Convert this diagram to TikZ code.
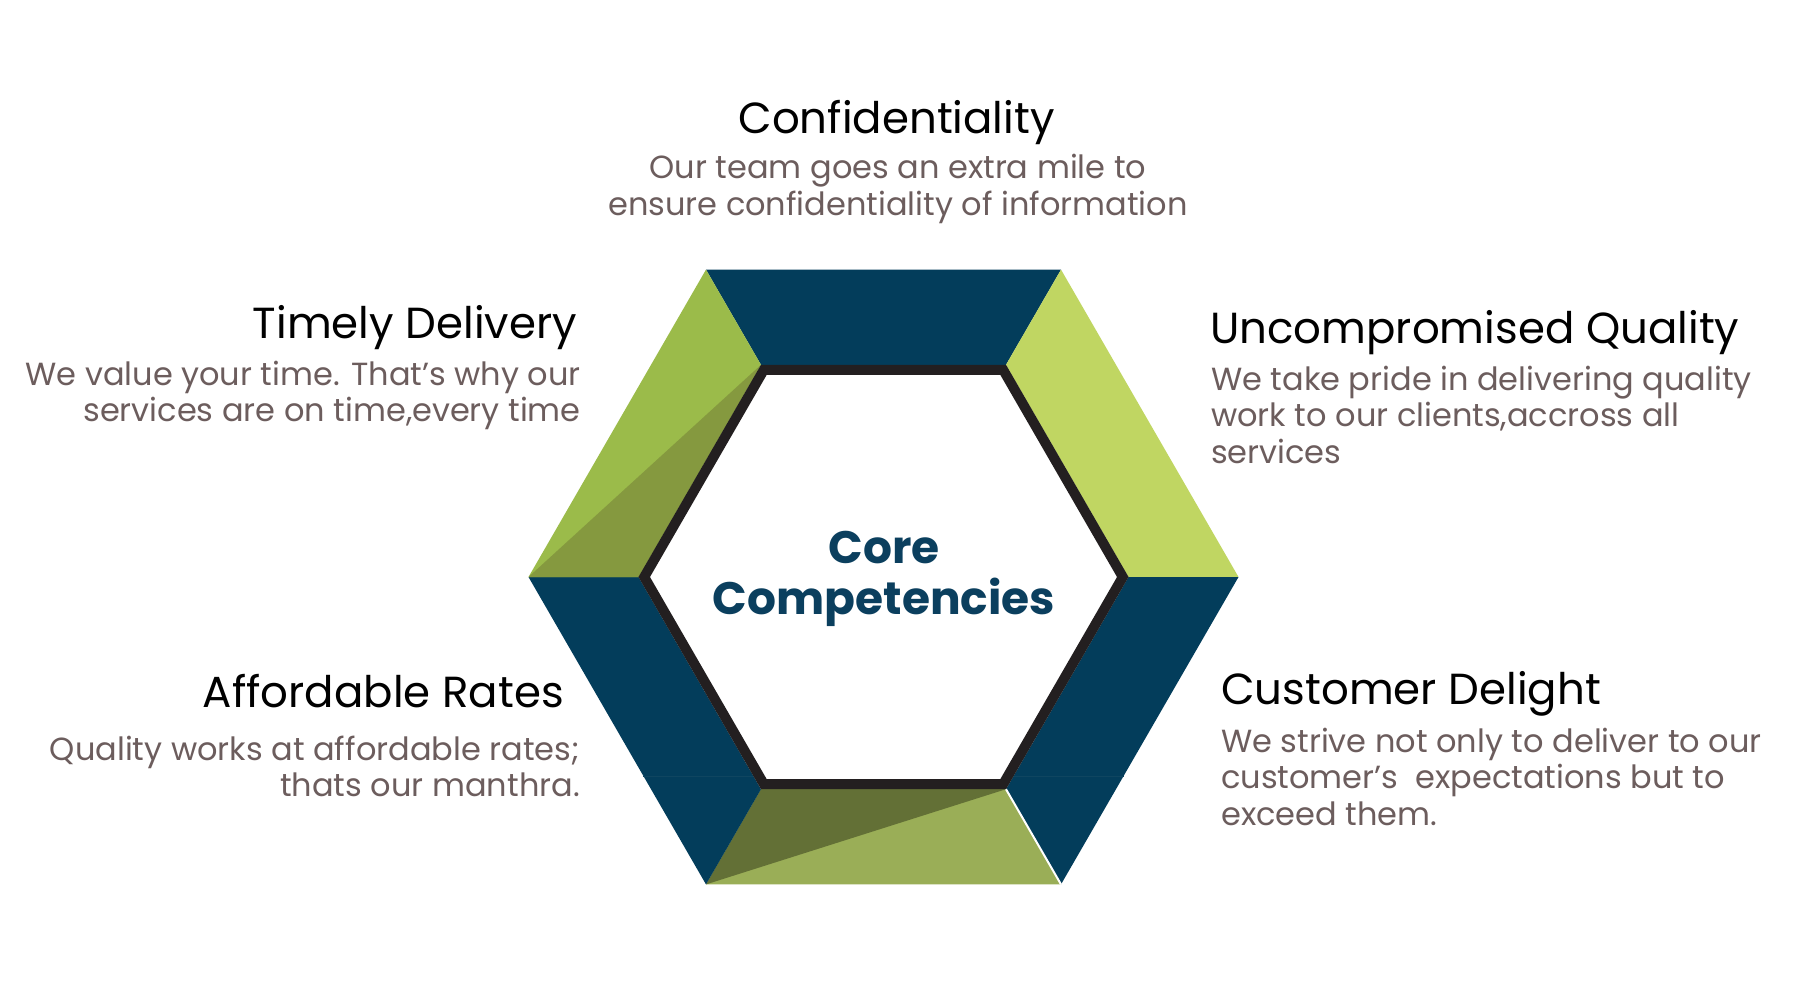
\documentclass[tikz,border=0pt]{standalone}
\usepackage{fontspec}
\setmainfont{Poppins}
\definecolor{navy}{HTML}{033D5B}
\definecolor{ltgreen}{HTML}{C0D662}
\definecolor{ulgreen}{HTML}{9BBB4A}
\definecolor{uldark}{HTML}{85993F}
\definecolor{btlight}{HTML}{9AAE57}
\definecolor{btdark}{HTML}{637036}
\definecolor{band}{HTML}{231F20}
\definecolor{descgray}{HTML}{6C5D5D}
\definecolor{coreblue}{HTML}{0B3F5E}
\definecolor{seam}{HTML}{0F4560}
\begin{document}
\begin{tikzpicture}[x=1pt,y=-1pt,
  title/.style={font=\fontsize{43.5}{50}\selectfont, text=black, inner sep=0pt},
  desc/.style={font=\fontsize{32}{36.7}\selectfont, text=descgray, inner sep=0pt},
  core/.style={font=\fontsize{45.5}{51}\selectfont\bfseries, text=coreblue, inner sep=0pt, align=center}]
\useasboundingbox[fill=white] (0,0) rectangle (1800,1000);
% outer hexagon
\coordinate (O0) at (1238.5,577);
\coordinate (O1) at (1061,269.6);
\coordinate (O2) at (706,269.6);
\coordinate (O3) at (528.5,577);
\coordinate (O4) at (706,884.4);
\coordinate (O5) at (1061,884.4);
% inner hexagon
\coordinate (I0) at (1128.5,577);
\coordinate (I1) at (1006,364.8);
\coordinate (I2) at (761,364.8);
\coordinate (I3) at (638.5,577);
\coordinate (I4) at (761,789.2);
\coordinate (I5) at (1006,789.2);
% band
\coordinate (B0) at (1122.8,577);
\coordinate (B1) at (1003.15,369.8);
\coordinate (B2) at (763.85,369.8);
\coordinate (B3) at (644.2,577);
\coordinate (B4) at (763.85,784.2);
\coordinate (B5) at (1003.15,784.2);
% seams
\coordinate (SR1) at (1013.6,776);
\coordinate (SR2) at (1123.6,776);
\coordinate (SL1) at (753.4,776);
\coordinate (SL2) at (643.4,776);
% faces
\fill[navy] (O2) -- (O1) -- (I1) -- (I2) -- cycle;
\fill[ltgreen] (O1) -- (O0) -- (I0) -- (I1) -- cycle;
\fill[navy] (O0) -- (O5) -- (I5) -- (I0) -- cycle;
\fill[btlight] (O5) -- (O4) -- (I4) -- (I5) -- cycle;
\fill[btdark] (O4) -- (I5) -- (I4) -- cycle;
\fill[navy] (O4) -- (O3) -- (I3) -- (I4) -- cycle;
\fill[ulgreen] (O3) -- (O2) -- (I2) -- (I3) -- cycle;
\fill[uldark] (O3) -- (I2) -- (I3) -- cycle;
\draw[seam, line width=1pt] (SR1) -- (SR2);
\draw[seam, line width=1pt] (SL1) -- (SL2);
\draw[white, line width=2pt] (I5) -- (O5);
\draw[band, line width=10pt, line join=miter] (B0) -- (B1) -- (B2) -- (B3) -- (B4) -- (B5) -- cycle;
% center
\node[core, anchor=base] (core) at (884,614) {Core\\Competencies};
% texts
\node[title, anchor=base] (t1) at (896.6,134) {Confidentiality};
\node[desc, anchor=base, align=center] (d1) at (898,215.7) {Our team goes an extra mile to\\ensure confidentiality of information};
\node[title, anchor=base east] (t2) at (577,339) {Timely Delivery};
\node[desc, anchor=base east, align=right] (d2) at (581,421.7) {We value your time. That’s why our\\services are on time,every time};
\node[title, anchor=base west] (t3) at (1210,344) {Uncompromised Quality};
\node[desc, anchor=base west, align=left] (d3) at (1211,463.4) {We take pride in delivering quality\\work to our clients,accross all\\services};
\node[title, anchor=base east] (t4) at (564,707) {Affordable Rates};
\node[desc, anchor=base east, align=right] (d4) at (580,796.7) {Quality works at affordable rates;\\thats our manthra.};
\node[title, anchor=base west] (t5) at (1221,704) {Customer Delight};
\node[desc, anchor=base west, align=left] (d5) at (1221,825.4) {We strive not only to deliver to our\\customer’s~ expectations but to\\exceed them.};
\end{tikzpicture}
\end{document}
